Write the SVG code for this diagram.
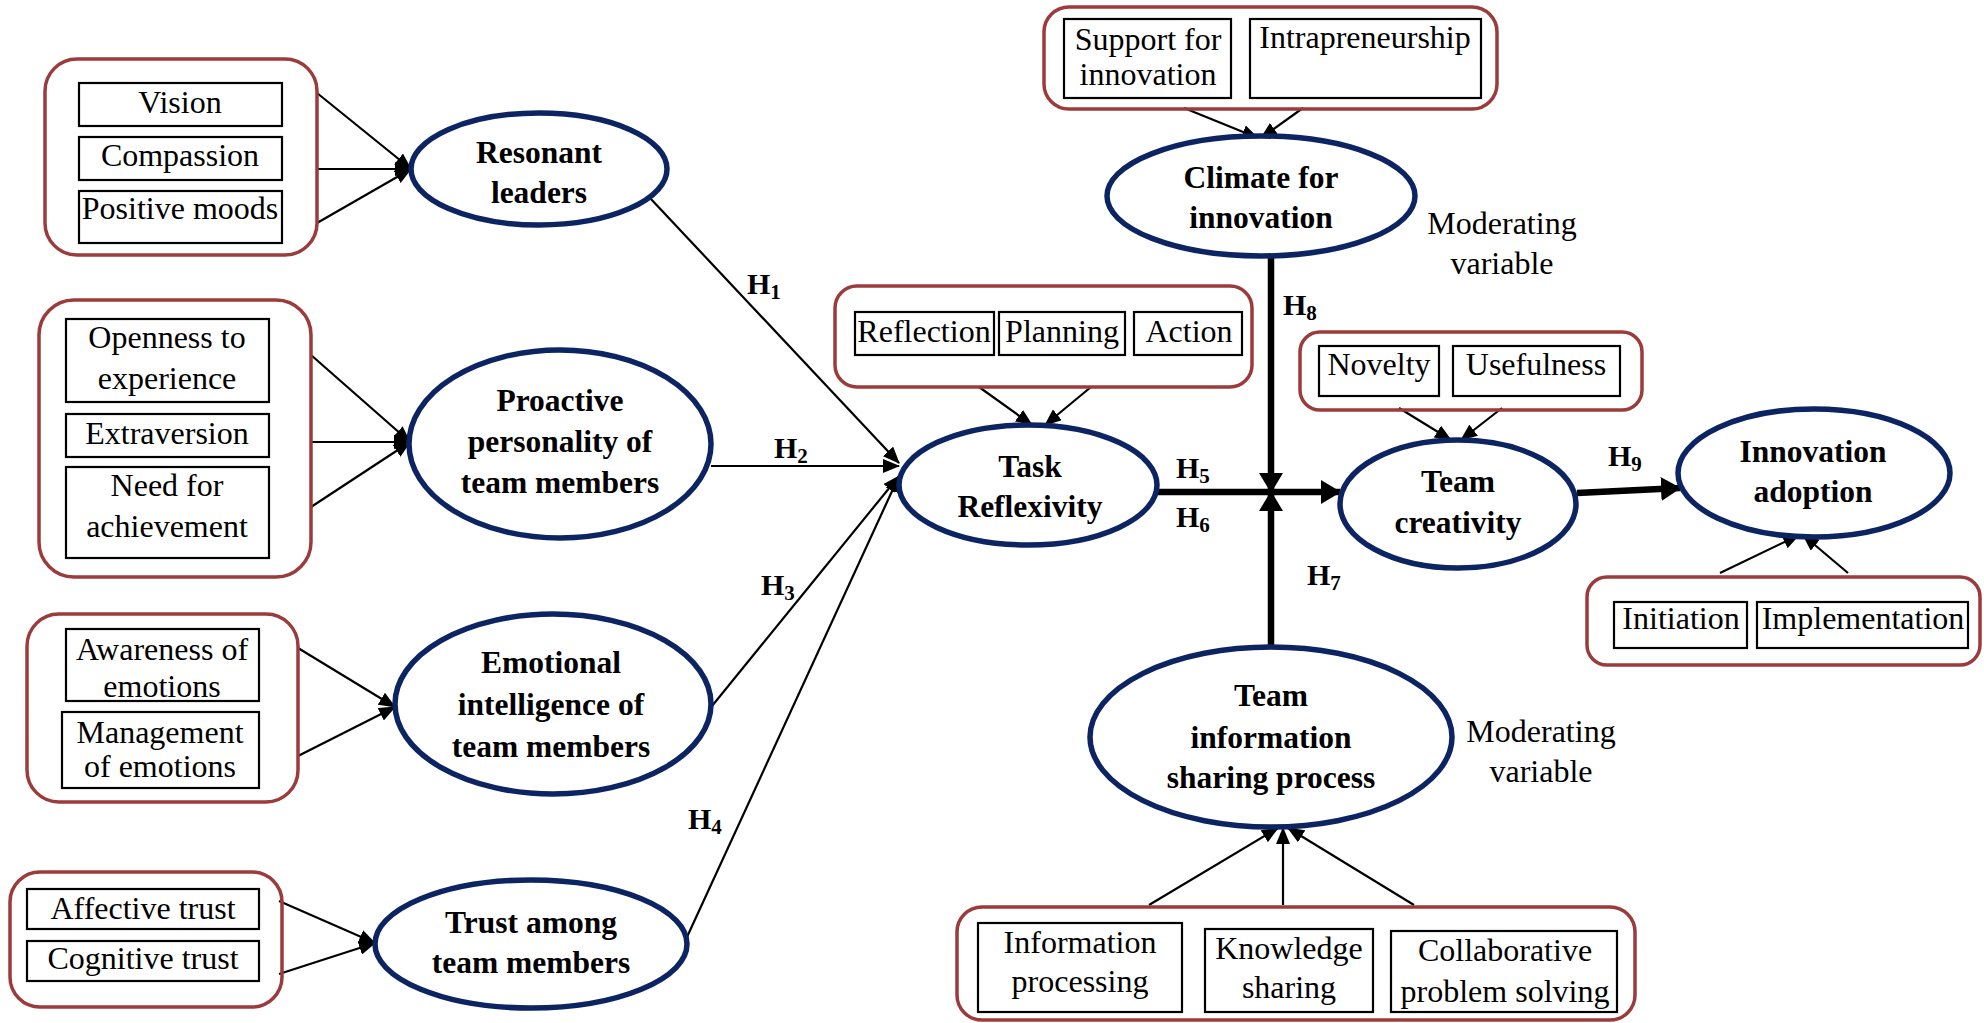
<svg xmlns="http://www.w3.org/2000/svg" width="1984" height="1023" viewBox="0 0 1984 1023">
  <style>
    .grp { fill: none; stroke: #9b3b3b; stroke-width: 3.5; }
    .box { fill: #ffffff; stroke: #000000; stroke-width: 2.2; }
    .ell { fill: #ffffff; stroke: #0c2461; stroke-width: 5.5; }
    .t { font-family: "Liberation Serif", "Times New Roman", serif; font-size: 32px; fill: #000; text-anchor: middle; }
    .b { font-family: "Liberation Serif", "Times New Roman", serif; font-size: 31.5px; font-weight: bold; fill: #000; text-anchor: middle; }
    .h { font-family: "Liberation Serif", "Times New Roman", serif; font-size: 30px; font-weight: bold; fill: #000; }
    .sub { font-size: 21px; }
    .c { stroke: #000; stroke-width: 2.2; fill: none; marker-end: url(#ah); }
    .ck { stroke: #000; stroke-width: 6.5; fill: none; }
  </style>
  <defs>
    <marker id="ah" markerUnits="userSpaceOnUse" markerWidth="17" markerHeight="14" refX="16" refY="7" orient="auto">
      <path d="M0,0 L17,7 L0,14 z" fill="#000"/>
    </marker>
    <marker id="ahb" markerUnits="userSpaceOnUse" markerWidth="20" markerHeight="24" refX="19" refY="12" orient="auto">
      <path d="M0,0 L20,12 L0,24 z" fill="#000"/>
    </marker>
  </defs>
  <rect width="1984" height="1023" fill="#ffffff"/>

  <!-- connectors -->
  <g id="connectors">
    <!-- indicators to Resonant leaders -->
    <line class="c" x1="317" y1="93" x2="411" y2="169"/>
    <line class="c" x1="317" y1="169" x2="411" y2="169"/>
    <line class="c" x1="317" y1="223" x2="411" y2="169"/>
    <!-- indicators to Proactive personality -->
    <line class="c" x1="311" y1="355" x2="410" y2="442"/>
    <line class="c" x1="311" y1="442" x2="410" y2="442"/>
    <line class="c" x1="311" y1="507" x2="410" y2="442"/>
    <!-- indicators to Emotional intelligence -->
    <line class="c" x1="298" y1="648" x2="395" y2="707"/>
    <line class="c" x1="298" y1="756" x2="395" y2="707"/>
    <!-- indicators to Trust -->
    <line class="c" x1="279" y1="901" x2="375" y2="943"/>
    <line class="c" x1="279" y1="974" x2="375" y2="943"/>
    <!-- H1-H4 into Task Reflexivity -->
    <line class="c" x1="650" y1="198" x2="899" y2="463"/>
    <line class="c" x1="711" y1="466" x2="899" y2="466"/>
    <line class="c" x1="712" y1="706" x2="899" y2="476"/>
    <line class="c" x1="687" y1="937" x2="899" y2="476"/>
    <!-- indicators to Climate for innovation -->
    <line class="c" x1="1184" y1="108" x2="1258" y2="138"/>
    <line class="c" x1="1303" y1="108" x2="1261" y2="138"/>
    <!-- indicators to Task Reflexivity -->
    <line class="c" x1="979" y1="387" x2="1032" y2="425"/>
    <line class="c" x1="1091" y1="387" x2="1045" y2="425"/>
    <!-- indicators to Team creativity -->
    <line class="c" x1="1399" y1="408" x2="1451" y2="440"/>
    <line class="c" x1="1502" y1="408" x2="1461" y2="440"/>
    <!-- indicators to Innovation adoption -->
    <line class="c" x1="1720" y1="573" x2="1799" y2="535"/>
    <line class="c" x1="1848" y1="573" x2="1803" y2="535"/>
    <!-- indicators to Team information sharing -->
    <line class="c" x1="1149" y1="905" x2="1278" y2="828"/>
    <line class="c" x1="1283" y1="905" x2="1283" y2="828"/>
    <line class="c" x1="1414" y1="905" x2="1288" y2="828"/>
    <!-- main path and moderators -->
    <line class="ck" x1="1155" y1="492" x2="1340" y2="492" marker-end="url(#ahb)"/>
    <line class="ck" x1="1271" y1="256" x2="1271" y2="492" marker-end="url(#ahb)"/>
    <line class="ck" x1="1271" y1="647" x2="1271" y2="492" marker-end="url(#ahb)"/>
    <line class="ck" x1="1577" y1="493" x2="1680" y2="488" marker-end="url(#ahb)"/>
  </g>

  <!-- hypothesis labels -->
  <g id="labels">
    <text class="h" x="747" y="294">H<tspan class="sub" dy="5">1</tspan></text>
    <text class="h" x="774" y="458">H<tspan class="sub" dy="5">2</tspan></text>
    <text class="h" x="761" y="595">H<tspan class="sub" dy="5">3</tspan></text>
    <text class="h" x="688" y="829">H<tspan class="sub" dy="5">4</tspan></text>
    <text class="h" x="1176" y="478">H<tspan class="sub" dy="5">5</tspan></text>
    <text class="h" x="1176" y="527">H<tspan class="sub" dy="5">6</tspan></text>
    <text class="h" x="1307" y="585">H<tspan class="sub" dy="5">7</tspan></text>
    <text class="h" x="1283" y="315">H<tspan class="sub" dy="5">8</tspan></text>
    <text class="h" x="1608" y="466">H<tspan class="sub" dy="5">9</tspan></text>
    <text class="t" x="1502" y="234">Moderating</text>
    <text class="t" x="1502" y="274">variable</text>
    <text class="t" x="1541" y="742">Moderating</text>
    <text class="t" x="1541" y="782">variable</text>
  </g>

  <!-- Resonant leaders -->
  <g id="resonant-leaders">
    <rect class="grp" x="45" y="59" width="272" height="196" rx="32"/>
    <rect class="box" x="79" y="83" width="203" height="43"/>
    <text class="t" x="180" y="113">Vision</text>
    <rect class="box" x="79" y="137" width="203" height="43"/>
    <text class="t" x="180" y="166">Compassion</text>
    <rect class="box" x="79" y="191" width="203" height="52"/>
    <text class="t" x="180" y="219">Positive moods</text>
    <ellipse class="ell" cx="539" cy="169" rx="128" ry="56"/>
    <text class="b" x="539" y="163">Resonant</text>
    <text class="b" x="539" y="203">leaders</text>
  </g>

  <!-- Proactive personality -->
  <g id="proactive-personality">
    <rect class="grp" x="39" y="300" width="272" height="277" rx="35"/>
    <rect class="box" x="66" y="319" width="203" height="83"/>
    <text class="t" x="167" y="348">Openness to</text>
    <text class="t" x="167" y="389">experience</text>
    <rect class="box" x="66" y="414" width="203" height="43"/>
    <text class="t" x="167" y="444">Extraversion</text>
    <rect class="box" x="66" y="467" width="203" height="91"/>
    <text class="t" x="167" y="496">Need for</text>
    <text class="t" x="167" y="537">achievement</text>
    <ellipse class="ell" cx="560" cy="444" rx="151" ry="94"/>
    <text class="b" x="560" y="411">Proactive</text>
    <text class="b" x="560" y="452">personality of</text>
    <text class="b" x="560" y="493">team members</text>
  </g>

  <!-- Emotional intelligence -->
  <g id="emotional-intelligence">
    <rect class="grp" x="27" y="614" width="271" height="188" rx="32"/>
    <rect class="box" x="66" y="629" width="193" height="72"/>
    <text class="t" x="162" y="660">Awareness of</text>
    <text class="t" x="162" y="697">emotions</text>
    <rect class="box" x="62" y="712" width="197" height="76"/>
    <text class="t" x="160" y="743">Management</text>
    <text class="t" x="160" y="777">of emotions</text>
    <ellipse class="ell" cx="553" cy="704" rx="158" ry="90"/>
    <text class="b" x="551" y="673">Emotional</text>
    <text class="b" x="551" y="715">intelligence of</text>
    <text class="b" x="551" y="757">team members</text>
  </g>

  <!-- Trust among team members -->
  <g id="trust">
    <rect class="grp" x="10" y="872" width="272" height="135" rx="30"/>
    <rect class="box" x="27" y="889" width="232" height="40"/>
    <text class="t" x="143" y="919">Affective trust</text>
    <rect class="box" x="27" y="941" width="232" height="40"/>
    <text class="t" x="143" y="969">Cognitive trust</text>
    <ellipse class="ell" cx="531" cy="944" rx="156" ry="64"/>
    <text class="b" x="531" y="933">Trust among</text>
    <text class="b" x="531" y="973">team members</text>
  </g>

  <!-- Climate for innovation -->
  <g id="climate">
    <rect class="grp" x="1044" y="7" width="453" height="102" rx="25"/>
    <rect class="box" x="1064" y="19" width="167" height="79"/>
    <text class="t" x="1148" y="50">Support for</text>
    <text class="t" x="1148" y="85">innovation</text>
    <rect class="box" x="1250" y="19" width="231" height="79"/>
    <text class="t" x="1365" y="48">Intrapreneurship</text>
    <ellipse class="ell" cx="1261" cy="196" rx="154" ry="60"/>
    <text class="b" x="1261" y="188">Climate for</text>
    <text class="b" x="1261" y="228">innovation</text>
  </g>

  <!-- Task Reflexivity -->
  <g id="task-reflexivity">
    <rect class="grp" x="835" y="286" width="417" height="101" rx="22"/>
    <rect class="box" x="855" y="312" width="139" height="43"/>
    <text class="t" x="924" y="342">Reflection</text>
    <rect class="box" x="999" y="312" width="126" height="43"/>
    <text class="t" x="1062" y="342">Planning</text>
    <rect class="box" x="1134" y="312" width="108" height="43"/>
    <text class="t" x="1189" y="342">Action</text>
    <ellipse class="ell" cx="1028" cy="485" rx="129" ry="60"/>
    <text class="b" x="1030" y="477">Task</text>
    <text class="b" x="1030" y="517">Reflexivity</text>
  </g>

  <!-- Team creativity -->
  <g id="team-creativity">
    <rect class="grp" x="1300" y="332" width="342" height="78" rx="20"/>
    <rect class="box" x="1319" y="346" width="120" height="50"/>
    <text class="t" x="1379" y="375">Novelty</text>
    <rect class="box" x="1453" y="346" width="167" height="50"/>
    <text class="t" x="1536" y="375">Usefulness</text>
    <ellipse class="ell" cx="1458" cy="504" rx="118" ry="64"/>
    <text class="b" x="1458" y="492">Team</text>
    <text class="b" x="1458" y="533">creativity</text>
  </g>

  <!-- Innovation adoption -->
  <g id="innovation-adoption">
    <ellipse class="ell" cx="1814" cy="473" rx="136" ry="64"/>
    <text class="b" x="1813" y="462">Innovation</text>
    <text class="b" x="1813" y="502">adoption</text>
    <rect class="grp" x="1587" y="577" width="393" height="88" rx="20"/>
    <rect class="box" x="1614" y="602" width="133" height="46"/>
    <text class="t" x="1681" y="629">Initiation</text>
    <rect class="box" x="1757" y="602" width="211" height="46"/>
    <text class="t" x="1863" y="629">Implementation</text>
  </g>

  <!-- Team information sharing process -->
  <g id="team-information-sharing">
    <ellipse class="ell" cx="1271" cy="737" rx="181" ry="90"/>
    <text class="b" x="1271" y="706">Team</text>
    <text class="b" x="1271" y="748">information</text>
    <text class="b" x="1271" y="788">sharing process</text>
    <rect class="grp" x="957" y="907" width="678" height="113" rx="25"/>
    <rect class="box" x="978" y="923" width="204" height="89"/>
    <text class="t" x="1080" y="953">Information</text>
    <text class="t" x="1080" y="992">processing</text>
    <rect class="box" x="1205" y="929" width="168" height="83"/>
    <text class="t" x="1289" y="959">Knowledge</text>
    <text class="t" x="1289" y="998">sharing</text>
    <rect class="box" x="1391" y="931" width="226" height="81"/>
    <text class="t" x="1505" y="961">Collaborative</text>
    <text class="t" x="1505" y="1002">problem solving</text>
  </g>
</svg>
